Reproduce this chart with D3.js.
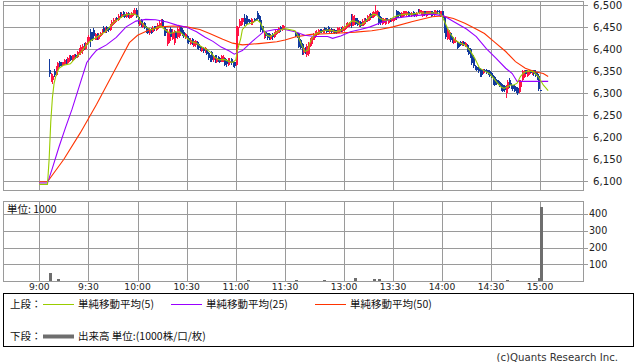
<!DOCTYPE html>
<html><head><meta charset="utf-8">
<script src="https://cdn.jsdelivr.net/npm/d3@7"></script>
<style>body{margin:0;background:#fff}svg{display:block}</style>
</head><body>
<svg id="c" width="638" height="362"></svg>
<script>
// ---------- DATA ----------
const priceTicks=[6100,6150,6200,6250,6300,6350,6400,6450,6500];
const volTicks=[100,200,300,400];
const timeTickMinutes=[0,30,60,90,120,150,240,270,300,330,360];
const timeTickLabels=["9:00","9:30","10:00","10:30","11:00","11:30","13:00","13:30","14:00","14:30","15:00"];
// bar minutes after 9:00 (morning 9:06-11:29, afternoon 12:30-15:00)
const barMinutes=d3.range(6,150).concat(d3.range(210,361));
const opens=[
6352,6332,6330,6350,6342,6355,6370,6368,6364,6366,
6375,6368,6375,6384,6376,6380,6388,6382,6388,6392,
6395,6410,6400,6412,6418,6440,6436,6444,6422,6434,
6424,6430,6436,6448,6440,6450,6448,6444,6452,6458,
6462,6472,6466,6482,6474,6482,6480,6474,6482,6470,
6474,6478,6480,6490,6474,6456,6466,6450,6460,6450,
6448,6436,6446,6440,6452,6444,6446,6450,6456,6466,
6452,6446,6412,6418,6446,6424,6414,6440,6428,6430,
6452,6444,6440,6428,6430,6426,6412,6424,6408,6410,
6416,6412,6406,6396,6404,6394,6400,6392,6384,6394,
6376,6386,6370,6382,6380,6372,6374,6380,6376,6364,
6368,6378,6372,6370,6364,6430,6452,6456,6462,6472,
6476,6468,6466,6458,6460,6468,6470,6482,6476,6466,
6452,6428,6440,6436,6434,6424,6434,6428,6432,6436,
6438,6450,6444,6446,
6440,6436,6434,6420,6412,6392,6404,6386,6390,6408,
6412,6422,6428,6432,6434,6444,6444,6438,6448,6446,
6450,6440,6446,6438,6444,6442,6438,6440,6448,6442,
6444,6448,6450,6454,6476,6454,6458,6470,6466,6452,
6462,6454,6458,6468,6464,6466,6480,6472,6474,6478,
6480,6484,6474,6458,6460,6458,6470,6460,6468,6464,
6464,6468,6488,6484,6480,6474,6476,6478,6478,6484,
6482,6476,6484,6482,6476,6488,6482,6480,6476,6486,
6476,6478,6480,6486,6484,6478,6480,6488,6486,6476,
6486,6474,6452,6424,6426,6436,6428,6414,6416,6416,
6414,6416,6410,6416,6408,6410,6404,6400,6388,6380,
6362,6360,6358,6356,6352,6346,6354,6354,6352,6350,
6346,6340,6336,6330,6328,6326,6322,6318,6316,6300,
6310,6330,6320,6318,6316,6312,6312,6304,6314,6330,
6336,6352,6340,6344,6352,6344,6352,6348,6344,6340,
6308];
const highs=[
6378,6346,6344,6356,6362,6372,6374,6372,6372,6378,
6378,6382,6386,6386,6388,6390,6390,6396,6402,6410,
6412,6414,6416,6428,6432,6446,6440,6448,6438,6436,
6436,6440,6446,6452,6450,6452,6450,6458,6466,6470,
6472,6474,6480,6484,6484,6486,6484,6484,6484,6480,
6484,6490,6494,6494,6476,6470,6468,6462,6462,6452,
6450,6448,6448,6452,6454,6454,6460,6464,6468,6468,
6454,6450,6446,6446,6450,6446,6444,6442,6450,6452,
6454,6448,6444,6438,6432,6428,6426,6426,6420,6422,
6418,6414,6408,6408,6406,6406,6402,6394,6388,6396,
6388,6388,6384,6384,6382,6386,6386,6382,6378,6380,
6380,6380,6374,6372,6452,6454,6468,6470,6472,6480,
6478,6470,6468,6470,6468,6470,6472,6486,6478,6468,
6454,6440,6442,6438,6436,6434,6436,6440,6444,6446,
6450,6452,6456,6456,
6442,6438,6436,6424,6414,6406,6406,6412,6416,6426,
6428,6438,6442,6444,6446,6446,6446,6446,6450,6448,
6452,6448,6448,6446,6446,6444,6450,6450,6450,6454,
6454,6460,6462,6462,6480,6480,6478,6472,6470,6464,
6464,6468,6470,6470,6478,6480,6482,6484,6486,6500,
6490,6486,6476,6472,6470,6470,6472,6468,6470,6470,
6472,6476,6490,6486,6482,6484,6486,6488,6488,6486,
6484,6484,6486,6484,6484,6492,6492,6490,6488,6488,
6486,6488,6488,6488,6486,6490,6490,6490,6490,6488,
6488,6476,6456,6446,6444,6438,6430,6428,6428,6418,
6416,6418,6418,6418,6416,6412,6406,6402,6390,6386,
6364,6362,6360,6358,6354,6356,6356,6356,6354,6352,
6348,6342,6338,6332,6330,6328,6324,6320,6318,6320,
6330,6334,6324,6320,6318,6314,6314,6330,6330,6354,
6352,6354,6354,6354,6354,6354,6354,6352,6348,6342,
6308];
const lows=[
6338,6325,6322,6338,6340,6352,6360,6362,6362,6364,
6366,6366,6372,6374,6374,6376,6378,6380,6386,6388,
6390,6398,6398,6410,6414,6405,6418,6426,6420,6420,
6422,6428,6432,6436,6438,6438,6440,6442,6450,6456,
6460,6462,6464,6470,6472,6474,6472,6472,6472,6468,
6470,6476,6478,6470,6458,6454,6450,6448,6446,6436,
6434,6432,6434,6438,6442,6442,6444,6448,6454,6450,
6430,6430,6408,6414,6422,6420,6410,6420,6424,6426,
6434,6430,6426,6424,6414,6412,6410,6410,6406,6406,
6400,6398,6396,6394,6392,6392,6386,6376,6370,6372,
6372,6368,6368,6370,6368,6370,6372,6362,6360,6362,
6364,6364,6360,6358,6362,6428,6448,6452,6458,6454,
6456,6458,6460,6456,6456,6462,6464,6466,6462,6440,
6436,6424,6426,6422,6420,6422,6422,6426,6430,6434,
6436,6440,6442,6444,
6428,6426,6402,6400,6386,6388,6390,6382,6384,6406,
6410,6420,6426,6430,6432,6436,6438,6436,6440,6438,
6440,6438,6436,6436,6434,6434,6436,6438,6440,6440,
6442,6446,6448,6450,6448,6452,6456,6456,6454,6450,
6450,6452,6456,6460,6462,6464,6470,6470,6472,6476,
6478,6456,6456,6456,6458,6456,6462,6458,6462,6462,
6462,6466,6466,6472,6474,6472,6474,6476,6476,6474,
6474,6474,6476,6474,6474,6482,6480,6478,6474,6476,
6474,6476,6478,6474,6476,6476,6478,6480,6478,6474,
6470,6436,6424,6420,6422,6416,6414,6412,6414,6400,
6402,6408,6408,6408,6406,6394,6386,6380,6364,6358,
6354,6350,6346,6336,6338,6344,6346,6344,6342,6336,
6334,6320,6316,6318,6318,6314,6306,6304,6304,6290,
6306,6312,6310,6306,6304,6300,6296,6300,6304,6328,
6334,6342,6338,6342,6344,6342,6340,6336,6330,6306,
6305];
const closes=[
6345,6342,6340,6342,6358,6368,6362,6365,6370,6375,
6368,6380,6384,6376,6386,6388,6380,6394,6398,6406,
6408,6402,6414,6424,6428,6420,6424,6430,6434,6424,
6432,6438,6442,6440,6448,6442,6444,6456,6462,6466,
6470,6466,6476,6474,6480,6476,6474,6482,6476,6478,
6482,6486,6490,6474,6460,6466,6454,6460,6448,6440,
6438,6446,6438,6448,6446,6450,6456,6460,6464,6452,
6434,6436,6440,6442,6428,6440,6438,6426,6446,6448,
6438,6434,6430,6434,6418,6416,6422,6414,6418,6418,
6404,6402,6400,6404,6396,6402,6390,6380,6376,6376,
6384,6372,6380,6374,6372,6384,6382,6364,6366,6376,
6374,6368,6364,6362,6448,6450,6464,6466,6470,6458,
6460,6462,6462,6466,6464,6464,6466,6468,6466,6444,
6440,6436,6430,6426,6424,6432,6428,6438,6442,6444,
6448,6444,6452,6454,
6430,6428,6406,6404,6390,6402,6394,6408,6412,6422,
6426,6434,6440,6440,6444,6438,6440,6444,6442,6440,
6442,6446,6440,6444,6438,6438,6448,6446,6444,6450,
6452,6456,6458,6460,6452,6476,6472,6458,6456,6462,
6454,6464,6468,6462,6476,6478,6472,6482,6484,6486,
6488,6460,6460,6468,6468,6466,6464,6466,6464,6468,
6470,6474,6470,6476,6476,6482,6484,6486,6484,6476,
6478,6482,6478,6478,6482,6484,6490,6488,6486,6478,
6484,6486,6486,6478,6480,6488,6486,6484,6482,6486,
6472,6440,6428,6442,6440,6420,6418,6424,6422,6402,
6406,6410,6414,6410,6414,6398,6390,6384,6368,6362,
6356,6354,6350,6340,6342,6354,6348,6346,6344,6340,
6338,6324,6320,6322,6320,6316,6310,6306,6308,6316,
6326,6318,6314,6310,6306,6304,6300,6326,6328,6350,
6348,6344,6350,6352,6346,6350,6344,6340,6334,6310,
6306];
// volume (1000 shares), only visible bars
const volMinutes=[6,11,127,210,227,246,258,261,339,359,360];
const volumes=[48,12,4,5,4,18,10,10,8,15,440];
// moving averages (minute, value)
const ma5Minutes=[0,5,6,7,8,9,10,12,15,19,22,25,28,30,32,34,37,40,43,46,49,52,55,58,60,62,65,68,71,74,77,80,83,86,89,93,96,99,102,105,107,110,113,116,118,120,121,123,124,127,130,133,135,137,139,141,144,147,150,
210,212,214,216,218,219,221,223,226,229,232,235,238,240,243,245,248,250,252,254,256,258,260,262,265,268,271,274,278,282,286,290,294,298,300,302,305,308,311,314,317,320,323,326,329,332,334,336,338,340,342,344,346,348,350,353,356,359,362,365];
const ma5Values=[6093,6093,6150,6235,6290,6322,6338,6357,6364,6367,6380,6391,6406,6415,6421,6425,6432,6439,6451,6463,6470,6478,6480,6480,6476,6462,6451,6444,6448,6453,6444,6436,6440,6439,6429,6417,6414,6406,6400,6392,6382,6376,6377,6372,6370,6376,6398,6425,6445,6457,6460,6467,6460,6444,6432,6429,6436,6444,6447,
6442,6429,6410,6395,6398,6414,6429,6436,6440,6444,6443,6440,6443,6448,6459,6465,6462,6455,6459,6467,6474,6480,6478,6470,6466,6467,6474,6478,6480,6480,6483,6482,6483,6482,6476,6459,6436,6421,6414,6410,6398,6380,6357,6351,6345,6332,6323,6315,6311,6315,6319,6319,6323,6338,6347,6351,6349,6338,6319,6306];
const ma25Minutes=[0,5,8,12,16,20,25,29,32,35,41,47,53,59,65,71,78,84,90,96,101,106,111,116,119,124,130,137,144,150,210,216,222,230,233,238,244,250,256,262,270,282,294,301,307,315,321,327,333,339,343,346,365];
const ma25Values=[6096,6096,6130,6178,6222,6264,6323,6370,6385,6398,6410,6427,6451,6464,6468,6467,6462,6455,6450,6440,6428,6418,6405,6396,6389,6397,6418,6440,6445,6445,6440,6432,6429,6429,6425,6430,6440,6445,6451,6460,6470,6476,6480,6476,6463,6446,6429,6402,6380,6357,6345,6327,6327];
const ma50Minutes=[0,5,15,25,35,45,55,60,67,74,82,90,98,104,112,118,124,134,145,150,210,220,232,247,257,262,270,282,294,300,307,314,320,326,332,339,345,351,357,362,365];
const ma50Values=[6099,6099,6150,6210,6275,6345,6415,6432,6444,6451,6453,6451,6445,6436,6423,6414,6410,6413,6417,6421,6428,6434,6436,6439,6442,6445,6451,6463,6474,6476,6470,6459,6448,6436,6417,6395,6372,6357,6349,6345,6338];
const legendLabels=["単純移動平均(5)","単純移動平均(25)","単純移動平均(50)"];

// ---------- DRAW ----------
const svg=d3.select('#c');
const numFont='"DejaVu Sans", Verdana, sans-serif';
const jpFont='"Noto Sans CJK JP", sans-serif';
const gridC='#9a9a9a';
const colUp='#ff1446', colDown='#123a9e';
const maColors=['#99cc00','#9900ff','#ff3300'];

const x=d3.scaleLinear().domain([0,150,210,360]).range([39.3,285,295,540]);
const y=d3.scaleLinear().domain([6100,6500]).range([181.3,5.3]);
const yv=d3.scaleLinear().domain([0,400]).range([281,214]);
const px=v=>Math.round(v)+0.5;

const main={l:3,r:583,t:1,b:190};
const vol={l:3,r:583,t:201,b:281};

function panelGrid(p, yTicks, ys){
  const g=svg.append('g').attr('shape-rendering','crispEdges');
  g.selectAll('.h').data(yTicks).join('line')
    .attr('x1',p.l).attr('x2',p.r+5).attr('y1',d=>px(ys(d))).attr('y2',d=>px(ys(d)))
    .attr('stroke',gridC);
  g.selectAll('.v').data(timeTickMinutes).join('line')
    .attr('x1',d=>px(x(d))).attr('x2',d=>px(x(d))).attr('y1',p.t).attr('y2',p.b)
    .attr('stroke',gridC);
  g.append('rect').attr('x',p.l+0.5).attr('y',p.t+0.5).attr('width',p.r-p.l).attr('height',p.b-p.t)
    .attr('fill','none').attr('stroke',gridC);
}
panelGrid(main, priceTicks, y);
panelGrid(vol, volTicks, yv);

// price axis labels
svg.append('g').selectAll('text').data(priceTicks).join('text')
  .attr('x',593).attr('y',d=>y(d)).attr('dy','0.36em')
  .attr('font-family',numFont).attr('font-size',10.2).attr('fill','#222')
  .text(d=>d3.format(',')(d));
svg.append('g').selectAll('text').data(volTicks).join('text')
  .attr('x',589).attr('y',d=>yv(d)).attr('dy','0.36em')
  .attr('font-family',numFont).attr('font-size',9.6).attr('fill','#222')
  .text(d=>d);
// time labels
svg.append('g').selectAll('text').data(timeTickMinutes).join('text')
  .attr('x',d=>x(d)).attr('y',287).attr('dy','0.36em').attr('text-anchor','middle')
  .attr('font-family',numFont).attr('font-size',9.2).attr('fill','#222')
  .text((d,i)=>timeTickLabels[i]);
svg.append('text').attr('x',7).attr('y',209).attr('dy','0.36em')
  .attr('font-family',jpFont).attr('font-size',10.5).attr('fill','#111').text('単位: 1000');

// candles
const bars=barMinutes.map((t,i)=>({t,o:opens[i],h:highs[i],l:lows[i],c:closes[i]}));
const cg=svg.append('g').attr('shape-rendering','crispEdges');
cg.selectAll('.w').data(bars).join('rect')
  .attr('x',d=>Math.round(x(d.t))).attr('width',1)
  .attr('y',d=>Math.round(y(d.h))).attr('height',d=>Math.max(1,Math.round(y(d.l))-Math.round(y(d.h))))
  .attr('fill',d=>d.c>=d.o?colUp:colDown);
cg.selectAll('.b').data(bars).join('rect')
  .attr('x',d=>Math.round(x(d.t))).attr('width',2)
  .attr('y',d=>Math.round(y(Math.max(d.o,d.c))))
  .attr('height',d=>Math.max(1,Math.round(y(Math.min(d.o,d.c)))-Math.round(y(Math.max(d.o,d.c)))))
  .attr('fill',d=>d.c>=d.o?colUp:colDown);

// moving averages
const line=d3.line().x(d=>x(d[0])).y(d=>y(d[1]));
[[ma50Minutes,ma50Values,2],[ma25Minutes,ma25Values,1],[ma5Minutes,ma5Values,0]].forEach(([ts,vs,ci])=>{
  svg.append('path').datum(ts.map((t,i)=>[t,vs[i]])).attr('d',line)
    .attr('fill','none').attr('stroke',maColors[ci]).attr('stroke-width',1.1);
});

// volume bars
svg.append('g').attr('shape-rendering','crispEdges').selectAll('rect')
  .data(volMinutes.map((t,i)=>({t,v:volumes[i]}))).join('rect')
  .attr('x',d=>Math.round(x(d.t))).attr('width',3)
  .attr('y',d=>Math.round(yv(d.v))).attr('height',d=>Math.max(1,Math.round(yv(0))-Math.round(yv(d.v))))
  .attr('fill','#6e6e6e');

// legend
svg.append('rect').attr('x',3.5).attr('y',293.5).attr('width',630).attr('height',53)
  .attr('fill','none').attr('stroke','#000');
const lg=svg.append('g').attr('font-family',jpFont).attr('font-size',10.5).attr('fill','#111');
lg.append('text').attr('x',10).attr('y',304).attr('dy','0.36em').text('上段：');
const lx=[43,171,315];
legendLabels.forEach((t,i)=>{
  lg.append('line').attr('x1',lx[i]).attr('x2',lx[i]+31).attr('y1',304.5).attr('y2',304.5)
    .attr('stroke',maColors[i]).attr('stroke-width',1);
  lg.append('text').attr('x',lx[i]+35).attr('y',304).attr('dy','0.36em').text(t);
});
lg.append('text').attr('x',10).attr('y',336).attr('dy','0.36em').text('下段：');
lg.append('line').attr('x1',43).attr('x2',74).attr('y1',336.5).attr('y2',336.5)
  .attr('stroke','#6e6e6e').attr('stroke-width',4);
lg.append('text').attr('x',78).attr('y',336).attr('dy','0.36em').text('出来高 単位:(1000株/口/枚)');
svg.append('text').attr('x',618).attr('y',357).attr('dy','0.36em').attr('text-anchor','end')
  .attr('font-family',numFont).attr('font-size',10.2).attr('fill','#333').text('(c)Quants Research Inc.');
</script>
</body></html>
